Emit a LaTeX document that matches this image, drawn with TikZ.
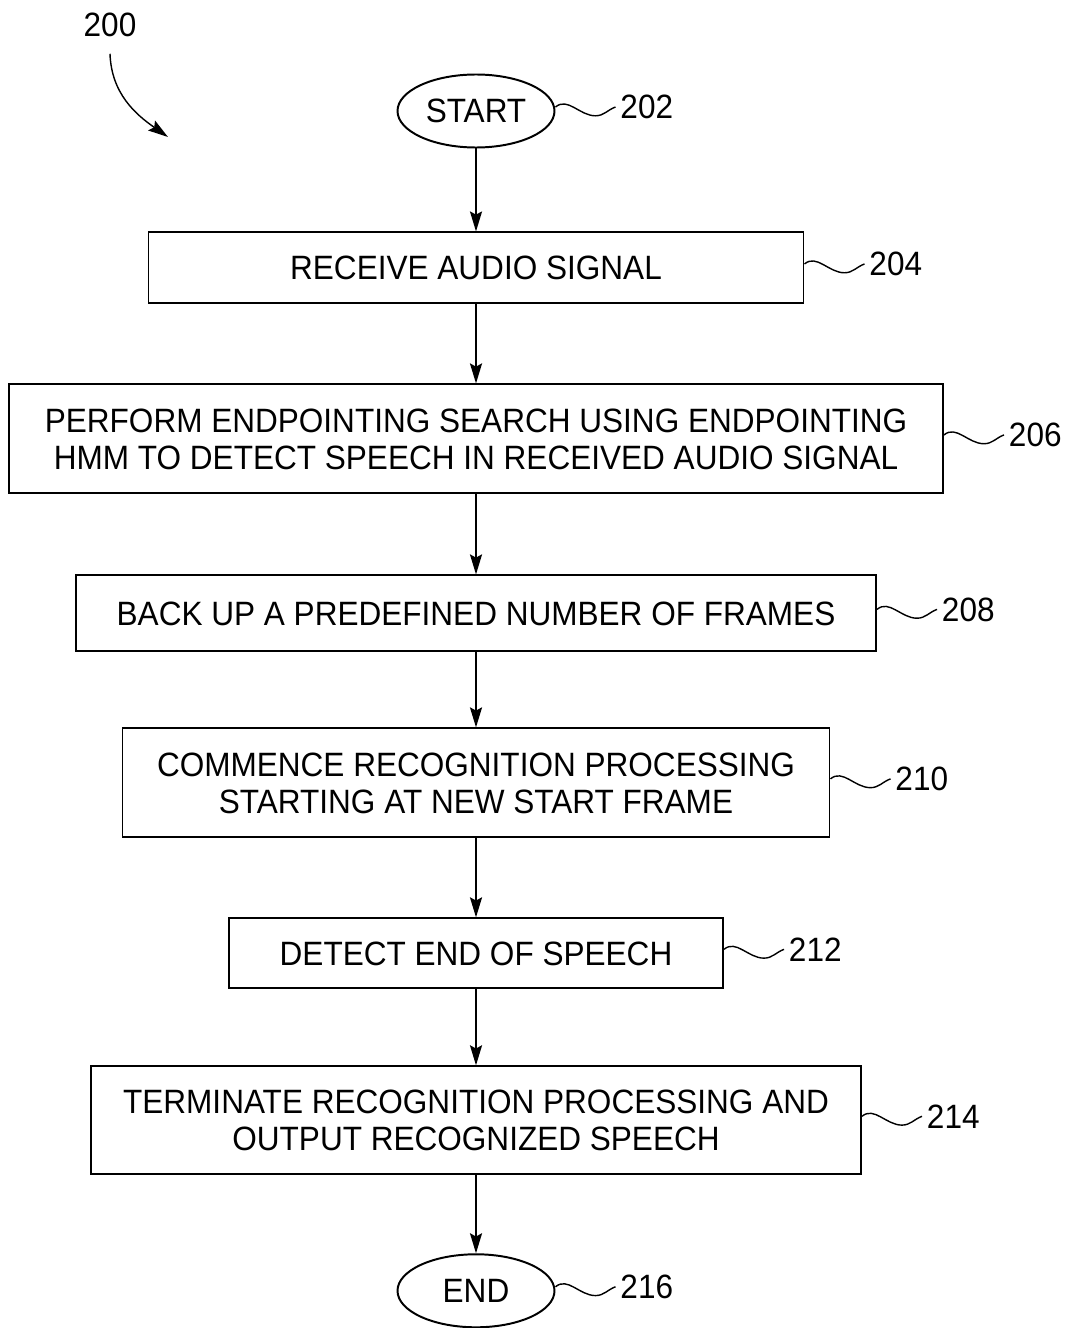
\documentclass[tikz,border=0pt]{standalone}
\usepackage{fontspec}
\setmainfont{Liberation Sans}[FakeStretch=0.935]
\newlength{\vdist}
\newlength{\rdist}
\usetikzlibrary{positioning}
\usetikzlibrary{shapes.geometric}
\usetikzlibrary{arrows.meta}
\tikzstyle{proc}=[draw, rectangle, align=center, inner sep=0cm]
\tikzstyle{term}=[draw, ellipse, inner sep=0cm, minimum width=3.925cm, minimum height=1.825cm]
\tikzstyle{refnum}=[inner sep=0.1cm]
\tikzstyle{leader}=[-, line width=1pt]

\begin{document}
\begin{tikzpicture}[line width=1.4pt, font=\fontsize{24}{26.3}\selectfont, text depth=0ex, -{Stealth[length=0.5cm, width=0.3cm, inset=0.08cm]}]

				\setlength{\vdist}{1.975cm}
				\setlength{\rdist}{1.5cm}

				\useasboundingbox (0,0) rectangle (26.6,-33.2);

				\node (start) [term] at (11.9,-2.775) {START};
				\node (b204) [proc, below=2.075cm of start, minimum width=16.375cm, minimum height=1.775cm] {RECEIVE AUDIO SIGNAL};
				\node (b206) [proc, below=\vdist of b204, minimum width=23.35cm, minimum height=2.725cm] {PERFORM ENDPOINTING SEARCH USING ENDPOINTING\\HMM TO DETECT SPEECH IN RECEIVED AUDIO SIGNAL};
				\node (b208) [proc, below=2cm of b206, minimum width=20cm, minimum height=1.9cm] {BACK UP A PREDEFINED NUMBER OF FRAMES};
				\node (b210) [proc, below=1.875cm of b208, minimum width=17.675cm, minimum height=2.725cm] {COMMENCE RECOGNITION PROCESSING\\STARTING AT NEW START FRAME};
				\node (b212) [proc, below=\vdist of b210, minimum width=12.35cm, minimum height=1.75cm] {DETECT END OF SPEECH};
				\node (b214) [proc, below=1.9cm of b212, minimum width=19.25cm, minimum height=2.7cm] {TERMINATE RECOGNITION PROCESSING AND\\OUTPUT RECOGNIZED SPEECH};
				\node (end) [term, below=1.95cm of b214] {END};

				\node (l200) [refnum] at (2.75,-0.625) {200};
				\coordinate (a200) at (4.2,-3.425);

				\node (l202) [refnum, right=\rdist of start, yshift=0.1cm] {202};
				\node (l204) [refnum, right=\rdist of b204, yshift=0.1cm] {204};
				\node (l206) [refnum, right=\rdist of b206, yshift=0.1cm] {206};
				\node (l208) [refnum, right=\rdist of b208, yshift=0.1cm] {208};
				\node (l210) [refnum, right=\rdist of b210, yshift=0.1cm] {210};
				\node (l212) [refnum, right=\rdist of b212, yshift=0.1cm] {212};
				\node (l214) [refnum, right=\rdist of b214, yshift=0.1cm] {214};
				\node (l216) [refnum, right=\rdist of end, yshift=0.1cm] {216};

				\draw (start) -- (b204);
				\draw (b204) -- (b206);
				\draw (b206) -- (b208);
				\draw (b208) -- (b210);
				\draw (b210) -- (b212);
				\draw (b212) -- (b214);
				\draw (b214) -- (end);

				\draw [line width=1pt] ([yshift=-0.3cm]l200.south) to[out=-88, in=145] (a200);

				\draw [leader] (start.east |- l202.west) to[out=40, in=180] ++(1,-0.22) to[out=0, in=200] (l202.west);
				\draw [leader] (b204.east |- l204.west) to[out=40, in=180] ++(1,-0.22) to[out=0, in=200] (l204.west);
				\draw [leader] (b206.east |- l206.west) to[out=40, in=180] ++(1,-0.22) to[out=0, in=200] (l206.west);
				\draw [leader] (b208.east |- l208.west) to[out=40, in=180] ++(1,-0.22) to[out=0, in=200] (l208.west);
				\draw [leader] (b210.east |- l210.west) to[out=40, in=180] ++(1,-0.22) to[out=0, in=200] (l210.west);
				\draw [leader] (b212.east |- l212.west) to[out=40, in=180] ++(1,-0.22) to[out=0, in=200] (l212.west);
				\draw [leader] (b214.east |- l214.west) to[out=40, in=180] ++(1,-0.22) to[out=0, in=200] (l214.west);
				\draw [leader] (end.east |- l216.west) to[out=40, in=180] ++(1,-0.22) to[out=0, in=200] (l216.west);
				\end{tikzpicture}
\end{document}
